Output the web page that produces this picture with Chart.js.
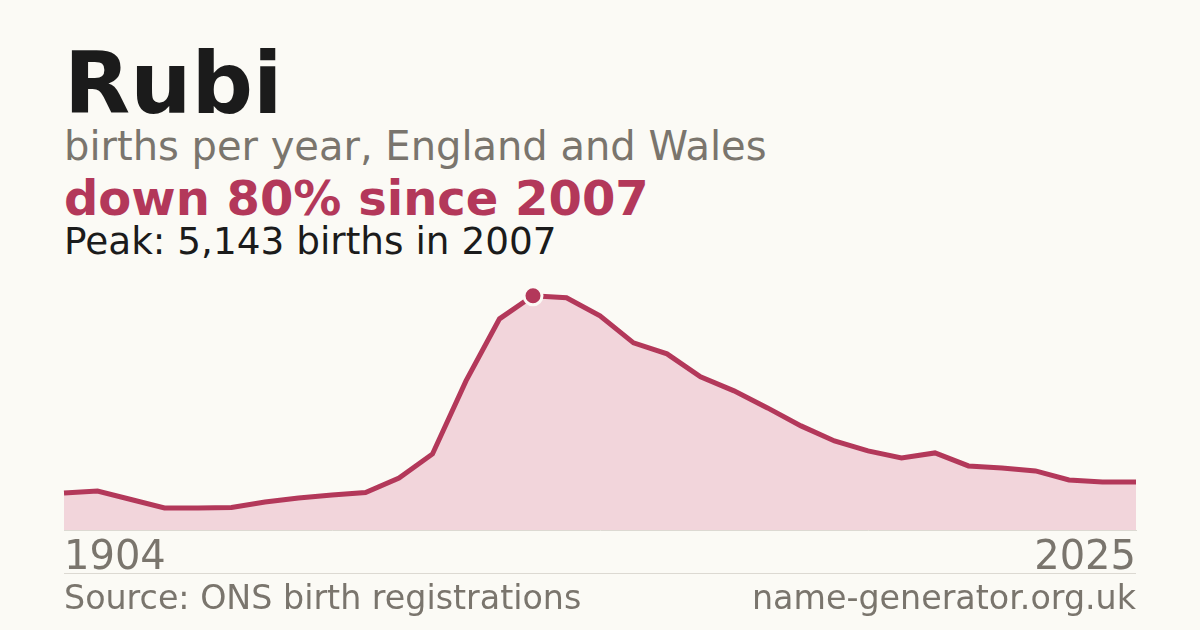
<!DOCTYPE html>
<html>
<head>
<meta charset="utf-8">
<script src="https://cdn.jsdelivr.net/npm/chart.js@4.4.1/dist/chart.umd.min.js"></script>
<style>
  html, body { margin: 0; padding: 0; }
  body { width: 1200px; height: 630px; background: #fbfaf5; position: relative; overflow: hidden;
         font-family: "DejaVu Sans", sans-serif; }
  .txt { position: absolute; left: 64px; line-height: 1; white-space: nowrap; }
  #title { top: 40px; font-size: 86px; font-weight: bold; color: #1b1b1b; }
  #sub { top: 126px; font-size: 40px; color: #7a756d; }
  #change { top: 174px; font-size: 48px; font-weight: bold; color: #b3385a; }
  #peak { top: 223px; font-size: 37.4px; color: #1b1b1b; }
  #rule { position: absolute; left: 64px; top: 573px; width: 1072px; height: 1px; background: #dcd9d2; }
  #source { top: 581px; font-size: 33.3px; color: #7a756d; }
  #site { top: 581px; left: auto; right: 64px; font-size: 33.3px; color: #7a756d; }
  /* tick padding (5px) also insets the chart area sideways, so the box is 5px wider each side */
  #wrap { position: absolute; left: 59px; top: 270px; width: 1082px; height: 318px; }
</style>
</head>
<body>
<div class="txt" id="title">Rubi</div>
<div class="txt" id="sub">births per year, England and Wales</div>
<div class="txt" id="change">down 80% since 2007</div>
<div class="txt" id="peak">Peak: 5,143 births in 2007</div>
<div id="wrap"><canvas id="nameChart"></canvas></div>
<div id="rule"></div>
<div class="txt" id="source">Source: ONS birth registrations</div>
<div class="txt" id="site">name-generator.org.uk</div>

<script>
// years on the axis (1904, then every year from 1994)
const years = [
    "1904", "1994", "1995", "1996", "1997", "1998", "1999", "2000", "2001", "2002", "2003",
    "2004", "2005", "2006", "2007", "2008", "2009", "2010", "2011", "2012", "2013", "2014",
    "2015", "2016", "2017", "2018", "2019", "2020", "2021", "2022", "2023", "2024", "2025"
];
// births per year
const births = [
    813, 857, 670, 484, 484, 494, 615, 703, 769, 824, 1143,
    1670, 3275, 4637, 5143, 5099, 4703, 4110, 3868, 3363, 3055, 2681,
    2286, 1956, 1736, 1582, 1692, 1407, 1363, 1297, 1099, 1055, 1055
];
// only the first and last year get a label
const tickYears = ["1904", "2025"];

const peakValue = Math.max(...births);
const peakIndex = births.indexOf(peakValue);

const crimson = "#b3385a";
const grey = "#7a756d";

const ctx = document.getElementById("nameChart").getContext("2d");
new Chart(ctx, {
    type: "line",
    data: {
        labels: years,
        datasets: [{
            data: births,
            fill: "origin",
            backgroundColor: "#f2d5db",
            borderColor: crimson,
            borderWidth: 5,
            tension: 0,
            pointRadius: (c) => c.dataIndex === peakIndex ? 9 : 0,
            pointHoverRadius: 0,
            pointBackgroundColor: crimson,
            pointBorderColor: "#fbfaf5",
            pointBorderWidth: 3
        }]
    },
    options: {
        responsive: true,
        maintainAspectRatio: false,
        animation: false,
        events: [],
        layout: { padding: 0, autoPadding: false },
        plugins: { legend: { display: false }, tooltip: { enabled: false } },
        scales: {
            x: {
                grid: { display: false, drawTicks: false },
                border: { display: true, color: "#dcd9d2", width: 1 },
                ticks: {
                    autoSkip: false,
                    maxRotation: 0,
                    align: "inner",
                    padding: 5,
                    color: grey,
                    font: { family: "DejaVu Sans", size: 40 },
                    callback: function (value, index) {
                        const label = this.getLabelForValue(value);
                        return tickYears.includes(label) ? label : "";
                    }
                }
            },
            y: { display: false, min: 0, max: Math.round(peakValue * 1.11) }
        }
    }
});
</script>
</body>
</html>
